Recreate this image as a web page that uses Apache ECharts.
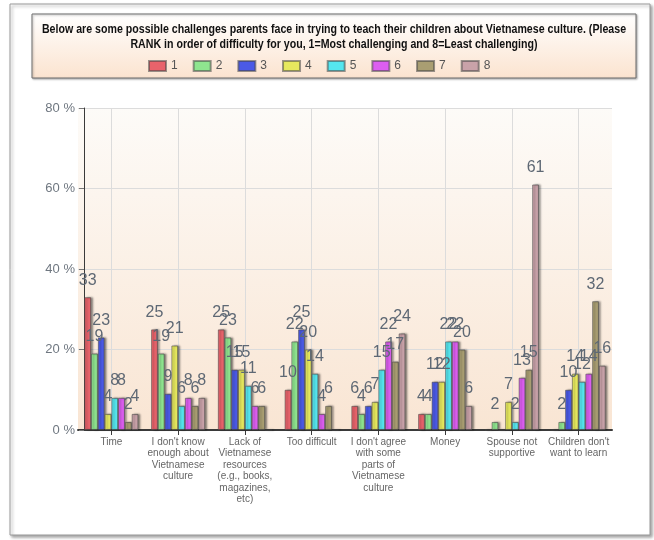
<!DOCTYPE html>
<html>
<head>
<meta charset="utf-8">
<script src="https://cdn.jsdelivr.net/npm/echarts@6/dist/echarts.min.js"></script>
<style>
  html, body { margin: 0; padding: 0; background: #ffffff; }
  #chart { width: 654px; height: 540px; }
</style>
</head>
<body>
<div id="chart"></div>
<script>
// Challenge categories (x axis), wrapped as they appear under the axis
const categories = [
  'Time',
  "I don't know\nenough about\nVietnamese\nculture",
  'Lack of\nVietnamese\nresources\n(e.g., books,\nmagazines,\netc)',
  'Too difficult',
  "I don't agree\nwith some\nparts of\nVietnamese\nculture",
  'Money',
  'Spouse not\nsupportive',
  "Children don't\nwant to learn"
];

// Rank names (legend)
const ranks = ['1', '2', '3', '4', '5', '6', '7', '8'];

// Percentage of respondents giving each rank, per challenge
const rank1 = [33, 25, 25, 10, 6, 4, 0, 0];
const rank2 = [19, 19, 23, 22, 4, 4, 2, 2];
const rank3 = [23, 9, 15, 25, 6, 12, 0, 10];
const rank4 = [4, 21, 15, 20, 7, 12, 7, 14];
const rank5 = [8, 6, 11, 14, 15, 22, 2, 12];
const rank6 = [8, 8, 6, 4, 22, 22, 13, 14];
const rank7 = [2, 6, 6, 6, 17, 20, 15, 32];
const rank8 = [4, 8, 0, 0, 24, 6, 61, 16];

// Y axis ticks
const yTicks = [0, 20, 40, 60, 80];

const titleLines = [
  'Below are some possible challenges parents face in trying to teach their children about Vietnamese culture. (Please',
  'RANK in order of difficulty for you, 1=Most challenging and 8=Least challenging)'
];

const rankValues = [rank1, rank2, rank3, rank4, rank5, rank6, rank7, rank8];
const rankColors = ['#e8636b', '#8fe58f', '#4b5ae6', '#e6e85e', '#55e6ef', '#dc5ef0', '#a99e72', '#c9a2a9'];

const chart = echarts.init(document.getElementById('chart'), null, { renderer: 'canvas' });

const series = ranks.map((name, i) => ({
  name: name,
  type: 'bar',
  data: rankValues[i],
  barGap: '0%',
  barCategoryGap: '19%',
  itemStyle: {
    color: rankColors[i],
    borderColor: 'rgba(70,70,70,0.55)',
    borderWidth: 1,
    shadowColor: 'rgba(0,0,0,0.45)',
    shadowBlur: 2,
    shadowOffsetX: 2,
    shadowOffsetY: 0
  },
  label: {
    show: true,
    position: 'top',
    distance: 9,
    fontFamily: "'Liberation Sans', Arial, sans-serif",
    fontSize: 16,
    color: '#5e6874',
    formatter: p => (p.value ? String(p.value) : '')
  }
}));

// Condensed bold heading: regular bold face squeezed horizontally
const titleFont = "bold 12px 'Liberation Sans', Arial, sans-serif";
const titleSqueeze = 0.885;

const option = {
  animation: false,
  backgroundColor: '#ffffff',
  graphic: [
    {
      type: 'rect',
      z: -10,
      shape: { x: 10, y: 4, width: 640, height: 531 },
      style: {
        fill: '#ffffff',
        stroke: '#9a9a9a',
        lineWidth: 1,
        shadowColor: 'rgba(0,0,0,0.35)',
        shadowBlur: 3,
        shadowOffsetX: 2,
        shadowOffsetY: 2
      }
    },
    {
      type: 'rect',
      z: -5,
      shape: { x: 32, y: 14, width: 604, height: 64 },
      style: {
        fill: new echarts.graphic.LinearGradient(0, 0, 0, 1, [
          { offset: 0, color: '#ffffff' },
          { offset: 1, color: '#fbe3cf' }
        ]),
        stroke: '#6e6e6e',
        lineWidth: 1,
        shadowColor: 'rgba(0,0,0,0.3)',
        shadowBlur: 2,
        shadowOffsetX: 1,
        shadowOffsetY: 1
      }
    },
    {
      type: 'text',
      z: 10,
      x: 334,
      y: 30,
      scaleX: titleSqueeze,
      style: {
        text: titleLines[0],
        font: titleFont,
        fill: '#111111',
        align: 'center',
        verticalAlign: 'middle'
      }
    },
    {
      type: 'text',
      z: 10,
      x: 334,
      y: 45,
      scaleX: titleSqueeze,
      style: {
        text: titleLines[1],
        font: titleFont,
        fill: '#111111',
        align: 'center',
        verticalAlign: 'middle'
      }
    }
  ],
  legend: {
    data: ranks,
    top: 55,
    left: 143,
    icon: 'rect',
    itemWidth: 17,
    itemHeight: 10,
    itemGap: 15,
    textStyle: {
      fontFamily: "'Liberation Sans', Arial, sans-serif",
      fontSize: 12,
      color: '#555555'
    }
  },
  grid: {
    left: 78,
    right: 42,
    top: 108,
    bottom: 110,
    show: true,
    borderWidth: 0,
    backgroundColor: new echarts.graphic.LinearGradient(0, 0, 0, 1, [
      { offset: 0, color: '#fdfbf8' },
      { offset: 1, color: '#f9e5d3' }
    ])
  },
  xAxis: {
    type: 'category',
    data: categories,
    axisLine: { lineStyle: { color: '#3a3a3a', width: 2 } },
    axisTick: { show: true, alignWithLabel: true, length: 5, lineStyle: { color: '#3a3a3a' } },
    splitLine: { show: true, alignWithLabel: true, lineStyle: { color: '#dcdcdc', width: 1 } },
    axisLabel: {
      interval: 0,
      margin: 6,
      fontFamily: "'Liberation Sans', Arial, sans-serif",
      fontSize: 10,
      lineHeight: 11.5,
      color: '#666666'
    }
  },
  yAxis: {
    type: 'value',
    min: yTicks[0],
    max: yTicks[yTicks.length - 1],
    interval: 20,
    offset: -6,
    axisLine: { show: true, lineStyle: { color: '#3a3a3a', width: 1 } },
    axisTick: { show: true, length: 5, lineStyle: { color: '#777777' } },
    splitLine: { show: true, lineStyle: { color: '#dcdcdc', width: 1 } },
    axisLabel: {
      margin: 9,
      fontFamily: "'Liberation Sans', Arial, sans-serif",
      fontSize: 13,
      color: '#6f7780',
      formatter: v => v + ' %'
    }
  },
  series: series
};

chart.setOption(option);
</script>
</body>
</html>
